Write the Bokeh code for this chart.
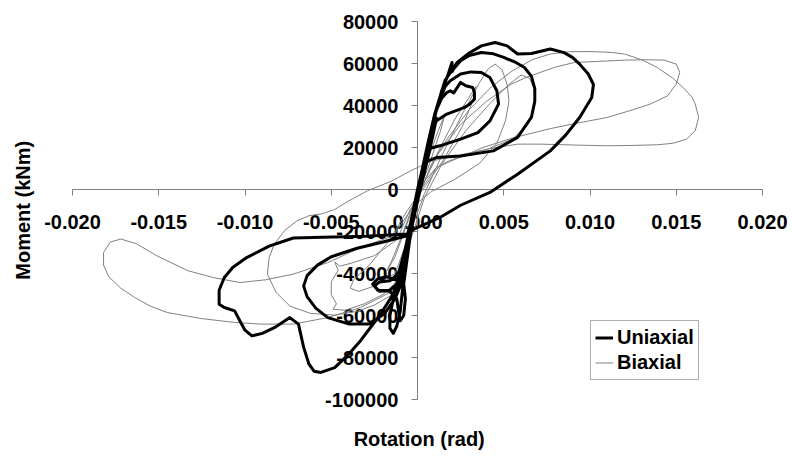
import math
from bokeh.plotting import figure
from bokeh.models import (FixedTicker, NumeralTickFormatter, Label, Legend, LegendItem)
from bokeh.embed import file_html
from bokeh.resources import INLINE

# ---------------- data (rotation in rad, moment in kNm) ----------------
x_ticks = [-0.020, -0.015, -0.010, -0.005, 0.0, 0.005, 0.010, 0.015, 0.020]
y_ticks = [-100000, -80000, -60000, -40000, -20000, 0, 20000, 40000, 60000, 80000]

uniaxial = [
    (0.0, 0), (0.0004, 14000), (0.0008, 28000), (0.0011, 34000), (0.0009, 26000),
    (0.0004, 8000), (-0.0002, -10000), (-0.0007, -28000), (-0.0011, -40000),
    (-0.0016, -43500), (-0.0022, -44000), (-0.0025, -46000), (-0.0022, -48500),
    (-0.0016, -48000), (-0.0012, -45000), (-0.0007, -28000), (0.0000, -2000),
    (0.0006, 22000), (0.0010, 36000), (0.0014, 43500), (0.0017, 46200),
    (0.0019, 47000), (0.0021, 46000), (0.0025, 51000), (0.0028, 49400),
    (0.0032, 48600), (0.0033, 46200), (0.0033, 43000), (0.0030, 40500),
    (0.0027, 39000), (0.0017, 35900), (0.0011, 32700), (0.0006, 22000),
    (0.0001, 3000), (-0.0004, -16000), (-0.0009, -36000), (-0.0011, -46000),
    (-0.0014, -52000), (-0.0016, -60000), (-0.0016, -66000), (-0.0014, -68500),
    (-0.0012, -65000), (-0.0010, -58000), (-0.0009, -50000), (-0.0006, -30000),
    (-0.0001, -8000), (0.0005, 16000), (0.0011, 38000), (0.0016, 49000),
    (0.0019, 51800), (0.0025, 55000), (0.0031, 56000), (0.0037, 55700),
    (0.0042, 53300), (0.0046, 47000), (0.0047, 40700), (0.0042, 32700),
    (0.0035, 27100), (0.0025, 24000), (0.0013, 20800), (0.0007, 19500),
    (0.0003, 10000), (-0.0002, -10000), (-0.0006, -22000), (-0.0020, -25000),
    (-0.0035, -28000), (-0.0050, -32000), (-0.0058, -36000), (-0.0064, -41000),
    (-0.0066, -46000), (-0.0064, -51000), (-0.0059, -56500), (-0.0052, -61000),
    (-0.0040, -64000), (-0.0028, -64000), (-0.0019, -59000), (-0.0013, -52000),
    (-0.0010, -46000), (-0.0004, -20000), (0.0003, 5000), (0.0009, 32000),
    (0.0014, 47000), (0.0017, 53000), (0.0019, 58000), (0.0020, 60500),
    (0.0020, 56000), (0.0021, 57500), (0.0025, 61300), (0.0030, 63800),
    (0.0037, 65200), (0.0044, 64600), (0.0050, 62900), (0.0057, 60500),
    (0.0062, 58100), (0.0066, 54000), (0.0068, 48000), (0.0068, 42000),
    (0.0066, 34300), (0.0058, 24800), (0.0044, 18400), (0.0025, 16000),
    (0.0011, 15200), (0.0004, 13000), (0.0000, 0), (-0.0005, -20000),
    (-0.0009, -36000), (-0.0013, -43000), (-0.0018, -41500), (-0.0023, -42500),
    (-0.0026, -45000), (-0.0023, -48000), (-0.0016, -48500), (-0.0012, -52000),
    (-0.0011, -58000), (-0.0010, -62500), (-0.0008, -60000), (-0.0007, -52000),
    (-0.0008, -45000), (-0.0003, -15000), (0.0005, 18000), (0.0010, 36000),
    (0.0016, 52000), (0.0023, 60500), (0.0030, 65000), (0.0037, 68400),
    (0.0045, 70000), (0.0052, 68400), (0.0058, 64500), (0.0066, 64800),
    (0.0077, 66900), (0.0085, 65200), (0.0090, 62800), (0.0094, 59700),
    (0.0099, 55000), (0.0102, 50000), (0.0101, 43800), (0.0094, 34300),
    (0.0086, 26000), (0.0077, 18400), (0.0058, 7300), (0.0042, -1400),
    (0.0025, -7500), (0.0013, -13300), (-0.0002, -18900), (-0.0006, -21200),
    (-0.0030, -22300), (-0.0055, -22700), (-0.0072, -23100), (-0.0086, -27000),
    (-0.0099, -32400), (-0.0107, -37000), (-0.0112, -41900), (-0.0115, -48000),
    (-0.0115, -54600), (-0.0112, -56200), (-0.0106, -57800), (-0.0103, -62500),
    (-0.0100, -67000), (-0.0096, -69700), (-0.0090, -68500), (-0.0083, -65800),
    (-0.0074, -61000), (-0.0069, -64100), (-0.0066, -75200), (-0.0063, -83000),
    (-0.0060, -86500), (-0.0056, -87100), (-0.0048, -84800), (-0.0040, -78500),
    (-0.0033, -72000), (-0.0022, -60000), (-0.0014, -49800), (-0.0009, -38000),
    (-0.0003, -12000), (0.0003, 8000),
]

biaxial = [
    (0.0, 0), (0.0006, 14000), (0.0012, 28000), (0.0016, 36000), (0.0013, 27000),
    (0.0006, 10000), (-0.0002, -6000), (-0.0009, -22000), (-0.0015, -34000),
    (-0.0018, -39000), (-0.0013, -32000), (-0.0005, -14000), (0.0003, 2000),
    (0.0012, 18000), (0.0022, 34000), (0.0030, 44000), (0.0034, 49000),
    (0.0032, 42000), (0.0026, 30000), (0.0015, 14000), (0.0004, 1000),
    (-0.0006, -10000), (-0.0016, -24000), (-0.0028, -36000), (-0.0037, -43000),
    (-0.0039, -47000), (-0.0034, -48500), (-0.0025, -46000), (-0.0013, -40000),
    (-0.0004, -20000), (0.0004, -2000), (0.0014, 16000), (0.0026, 36000),
    (0.0036, 51000), (0.0041, 57500), (0.0045, 59700), (0.0049, 57000),
    (0.0052, 50000), (0.0053, 42000), (0.0051, 32700), (0.0046, 22000),
    (0.0036, 12500), (0.0022, 5000), (0.0008, -1000), (-0.0004, -9000),
    (-0.0012, -24000), (-0.0025, -31500), (-0.0038, -35000), (-0.0045, -36500),
    (-0.0048, -34500), (-0.0046, -38500), (-0.0050, -44000), (-0.0050, -50000),
    (-0.0047, -54500), (-0.0049, -57000), (-0.0042, -57500), (-0.0031, -54500),
    (-0.0020, -50000), (-0.0011, -43000), (-0.0004, -24000), (0.0004, -4000),
    (0.0014, 12000), (0.0028, 28000), (0.0042, 41000), (0.0053, 50000),
    (0.0060, 54500), (0.0065, 53000), (0.0068, 47000), (0.0068, 40000),
    (0.0064, 31000), (0.0055, 24000), (0.0040, 19000), (0.0022, 16000),
    (0.0008, 13500), (-0.0004, 8900), (-0.0015, 4000), (-0.0029, -600),
    (-0.0040, -5500), (-0.0048, -9500), (-0.0055, -11500), (-0.0063, -12500),
    (-0.0070, -15000), (-0.0077, -19500), (-0.0083, -26000), (-0.0086, -32400),
    (-0.0087, -40300), (-0.0082, -49000), (-0.0074, -55500), (-0.0062, -59000),
    (-0.0048, -59800), (-0.0035, -58000), (-0.0025, -55000), (-0.0014, -49800),
    (-0.0008, -36000), (-0.0003, -15000), (0.0002, 0),
    (0.0011, 10500), (0.0025, 15500), (0.0038, 20000), (0.0055, 24500),
    (0.0077, 29000), (0.0095, 32000), (0.0110, 34300), (0.0125, 38000),
    (0.0135, 40700), (0.0145, 44600), (0.0150, 50200), (0.0152, 55700),
    (0.0150, 59700), (0.0143, 61600), (0.0132, 61800), (0.0120, 61600),
    (0.0105, 61000), (0.0091, 60500), (0.0080, 58300), (0.0071, 55700),
    (0.0062, 53000), (0.0054, 50000), (0.0040, 42000), (0.0025, 31000),
    (0.0012, 17000), (0.0004, 4000), (-0.0004, -10000),
    (-0.0014, -22000), (-0.0033, -27600), (-0.0052, -34800), (-0.0072, -40300),
    (-0.0088, -43000), (-0.0103, -44300), (-0.0118, -42000), (-0.0133, -38700),
    (-0.0151, -31600), (-0.0163, -25800), (-0.0172, -23600), (-0.0178, -25000),
    (-0.0182, -30000), (-0.0182, -36000), (-0.0179, -41500), (-0.0172, -47000),
    (-0.0164, -51400), (-0.0155, -55500), (-0.0145, -58600), (-0.0125, -61500),
    (-0.0106, -63300), (-0.0091, -64100), (-0.0072, -64100), (-0.0052, -61000),
    (-0.0033, -56200), (-0.0014, -48200), (-0.0007, -30000), (0.0000, -5000),
    (0.0008, 12000), (0.0018, 25000), (0.0030, 38000), (0.0043, 49000),
    (0.0055, 56500), (0.0067, 62000), (0.0077, 64500), (0.0088, 65600),
    (0.0100, 65700), (0.0112, 65300), (0.0120, 64500), (0.0130, 61800),
    (0.0139, 58100), (0.0148, 53000), (0.0154, 48600), (0.0159, 44000),
    (0.0161, 40700), (0.0163, 34300), (0.0161, 28000), (0.0156, 24000),
    (0.0148, 22000), (0.0139, 21300), (0.0125, 21000), (0.0110, 20800),
    (0.0090, 21200), (0.0071, 21600), (0.0058, 21600), (0.0042, 19500),
    (0.0029, 16900), (0.0018, 13500), (0.0011, 10500), (0.0004, 4100),
    (-0.0002, -6000),
]

uni_rot = [p[0] for p in uniaxial]
uni_mom = [p[1] for p in uniaxial]
bi_rot = [p[0] for p in biaxial]
bi_mom = [p[1] for p in biaxial]

FONT = "Liberation Sans"

# the frame covers the whole canvas; the axes are bounded to the data span
p = figure(width=792, height=457, output_backend="svg", toolbar_location=None,
           x_range=(-0.024174, 0.021739), y_range=(-127619, 90000),
           min_border_left=0, min_border_right=0, min_border_top=0,
           min_border_bottom=0, outline_line_color=None,
           background_fill_color="white", border_fill_color="white")
p.grid.visible = False

# series
r_bi = p.line(bi_rot, bi_mom, line_color="#808080", line_width=1, line_join="round")
r_uni = p.line(uni_rot, uni_mom, line_color="black", line_width=3, line_join="round")

# axes crossing at zero
for ax in (p.xaxis, p.yaxis):
    ax.fixed_location = 0
    ax.axis_line_color = "#808080"
    ax.major_tick_line_color = "#808080"
    ax.minor_tick_line_color = None
    ax.major_tick_in = 0
    ax.major_tick_out = 6
    ax.major_label_text_font = FONT
    ax.major_label_text_font_style = "bold"
    ax.major_label_text_font_size = "20px"
    ax.major_label_text_color = "black"
    ax.level = "underlay"

p.xaxis.bounds = (-0.020, 0.020)
p.yaxis.bounds = (-100000, 80000)
p.xaxis.ticker = FixedTicker(ticks=x_ticks)
p.yaxis.ticker = FixedTicker(ticks=y_ticks)
p.xaxis.formatter = NumeralTickFormatter(format="0.000")
p.yaxis.formatter = NumeralTickFormatter(format="0")
p.xaxis.major_label_standoff = 19
p.yaxis.major_label_standoff = 13

# axis titles
p.add_layout(Label(x=0.0001, y=-119000, text="Rotation (rad)", text_align="center",
                   text_baseline="middle", text_font=FONT, text_font_style="bold",
                   text_font_size="20px", text_color="black"))
p.add_layout(Label(x=-0.02286, y=-9900, text="Moment (kNm)", text_align="center",
                   text_baseline="middle", angle=math.pi / 2, text_font=FONT,
                   text_font_style="bold", text_font_size="20px", text_color="black"))

legend = Legend(items=[LegendItem(label="Uniaxial", renderers=[r_uni]),
                       LegendItem(label="Biaxial", renderers=[r_bi])],
                location=(590, 77), orientation="vertical",
                label_text_font=FONT, label_text_font_style="bold",
                label_text_font_size="20px", label_text_color="black",
                glyph_width=18, glyph_height=25, label_height=25,
                label_standoff=4, spacing=0, padding=4, margin=0,
                border_line_color="#606060", border_line_width=1,
                background_fill_color="white", background_fill_alpha=1.0)
p.add_layout(legend, "center")

open("out.html", "w").write(file_html(p, INLINE))
